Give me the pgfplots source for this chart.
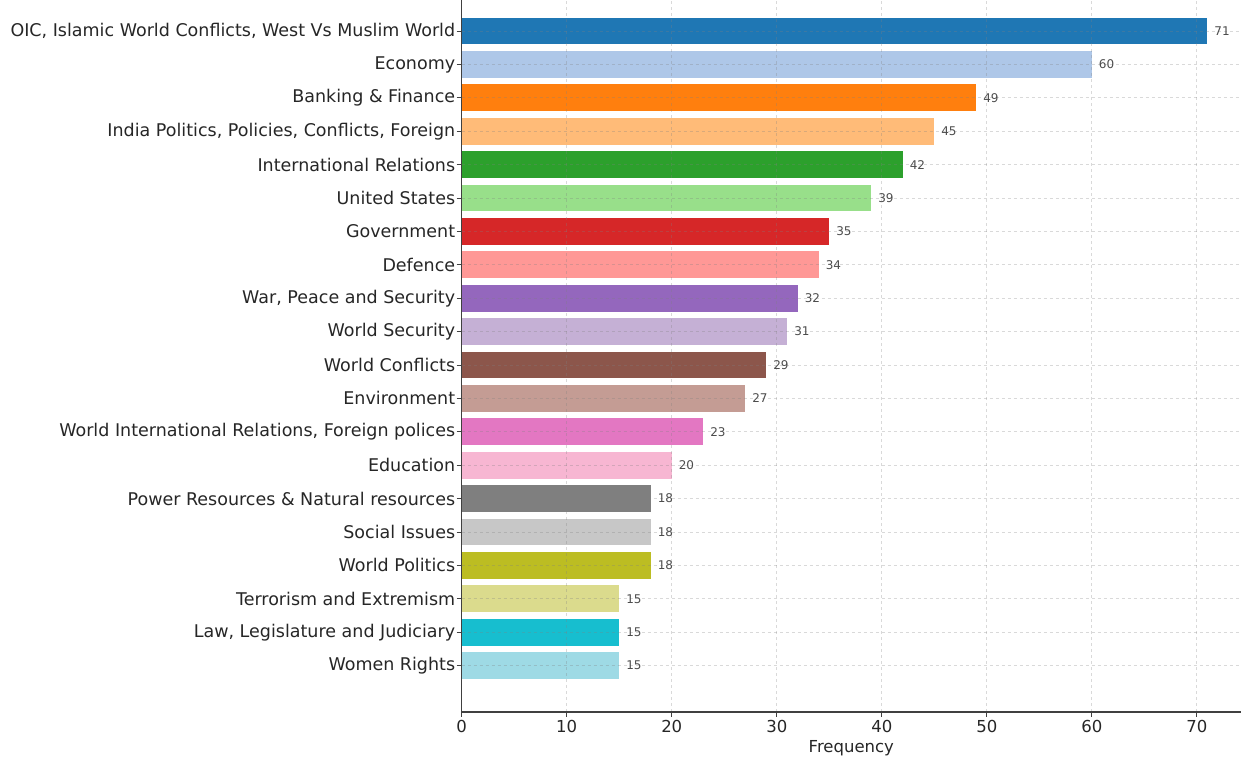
\documentclass[border=0pt]{standalone}
\usepackage{fontspec}
\setmainfont{DejaVu Sans}
\usepackage{pgfplots}
\pgfplotsset{compat=1.18}

% tab20
\definecolor{c1}{HTML}{1F77B4}\definecolor{c2}{HTML}{AEC7E8}
\definecolor{c3}{HTML}{FF7F0E}\definecolor{c4}{HTML}{FFBB78}
\definecolor{c5}{HTML}{2CA02C}\definecolor{c6}{HTML}{98DF8A}
\definecolor{c7}{HTML}{D62728}\definecolor{c8}{HTML}{FF9896}
\definecolor{c9}{HTML}{9467BD}\definecolor{c10}{HTML}{C5B0D5}
\definecolor{c11}{HTML}{8C564B}\definecolor{c12}{HTML}{C49C94}
\definecolor{c13}{HTML}{E377C2}\definecolor{c14}{HTML}{F7B6D2}
\definecolor{c15}{HTML}{7F7F7F}\definecolor{c16}{HTML}{C7C7C7}
\definecolor{c17}{HTML}{BCBD22}\definecolor{c18}{HTML}{DBDB8D}
\definecolor{c19}{HTML}{17BECF}\definecolor{c20}{HTML}{9EDAE5}

\begin{document}
\begin{tikzpicture}
\begin{axis}[
    name=ax,
    scale only axis,
    width=779.3pt, height=712pt,
    xbar, bar width=0.8, bar shift=0pt,
    xmin=0, xmax=74.2,
    ymin=-1.39, ymax=19.93,
    axis x line*=bottom, axis y line*=left,
    x axis line style={-, line width=1.2pt, black!75},
    y axis line style={-, line width=1.2pt, black!75},
    xtick={0,10,...,70},
    ytick={0,...,19},
    yticklabels={Women Rights, {Law, Legislature and Judiciary}, Terrorism and Extremism,
        World Politics, Social Issues, Power Resources \& Natural resources, Education,
        {World International Relations, Foreign polices}, Environment, World Conflicts,
        World Security, {War, Peace and Security}, Defence, Government, United States,
        International Relations, {India Politics, Policies, Conflicts, Foreign},
        Banking \& Finance, Economy, {OIC, Islamic World Conflicts, West Vs Muslim World}},
    tick style={black!75, line width=0.9pt},
    major tick length=5pt,
    tick align=outside,
    xmajorgrids, ymajorgrids,
    major grid style={gray, opacity=0.3, dashed, line width=0.8pt},
    axis on top,
    xticklabel style={font=\fontsize{16.5}{19}\selectfont, text=black!85},
    yticklabel style={font=\fontsize{17.5}{20}\selectfont, text=black!85, xshift=2pt},
    /pgf/number format/assume math mode=true,
    xlabel={Frequency},
    xlabel style={font=\fontsize{16.5}{19}\selectfont, text=black!85, yshift=-1pt},
    nodes near coords,
    nodes near coords style={font=\fontsize{12}{14}\selectfont, text=black!70, anchor=west, xshift=3.5pt},
    every axis plot/.append style={draw=none},
]
\addplot[fill=c1]  coordinates {(71,19)};
\addplot[fill=c2]  coordinates {(60,18)};
\addplot[fill=c3]  coordinates {(49,17)};
\addplot[fill=c4]  coordinates {(45,16)};
\addplot[fill=c5]  coordinates {(42,15)};
\addplot[fill=c6]  coordinates {(39,14)};
\addplot[fill=c7]  coordinates {(35,13)};
\addplot[fill=c8]  coordinates {(34,12)};
\addplot[fill=c9]  coordinates {(32,11)};
\addplot[fill=c10] coordinates {(31,10)};
\addplot[fill=c11] coordinates {(29,9)};
\addplot[fill=c12] coordinates {(27,8)};
\addplot[fill=c13] coordinates {(23,7)};
\addplot[fill=c14] coordinates {(20,6)};
\addplot[fill=c15] coordinates {(18,5)};
\addplot[fill=c16] coordinates {(18,4)};
\addplot[fill=c17] coordinates {(18,3)};
\addplot[fill=c18] coordinates {(15,2)};
\addplot[fill=c19] coordinates {(15,1)};
\addplot[fill=c20] coordinates {(15,0)};
\end{axis}
\pgfresetboundingbox
\path[use as bounding box] ([xshift=-461.7pt,yshift=-47pt]ax.south west) rectangle (ax.north east);
\end{tikzpicture}
\end{document}
